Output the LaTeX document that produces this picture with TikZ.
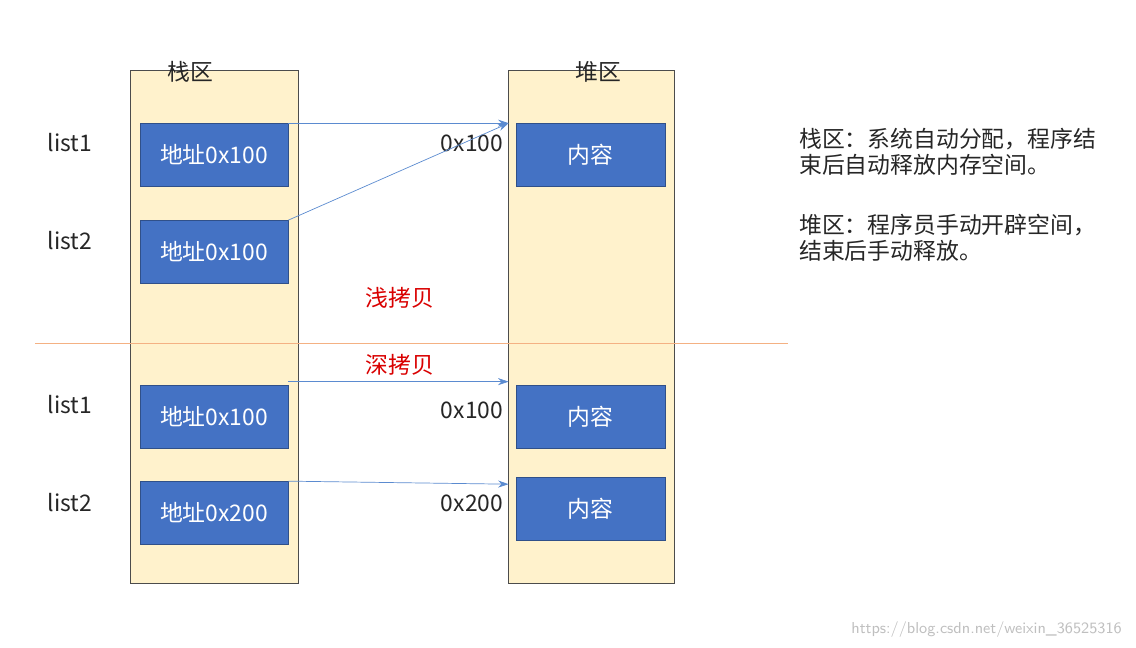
\documentclass[tikz,border=0pt]{standalone}
\usepackage{fontspec}
\newfontfamily\cjk{Noto Sans CJK SC}
\usetikzlibrary{arrows.meta}
\definecolor{zone}{HTML}{FFF2CC}
\definecolor{cell}{HTML}{4472C4}
\definecolor{link}{HTML}{5B8BD0}
\definecolor{cut}{HTML}{F4B183}
\tikzset{
  area/.style={draw=black!70,fill=zone,thin},
  cellbox/.style={draw=cell!70!black,fill=cell,text=white,inner sep=0pt},
  txt/.style={font=\cjk\fontsize{13}{15}\selectfont,text=black!85},
  ptr/.style={-{Stealth[length=6pt,width=4pt]},link,thin}
}
\begin{document}
\begin{tikzpicture}[x=0.02cm,y=-0.02cm]
  \useasboundingbox (0,0) rectangle (1136,648);

% memory areas
  \draw[area] (130,70) rectangle (298,583);
  \draw[area] (508,70) rectangle (674,583);
  \node[txt] (stk) at (190,72) {栈区};
  \node[txt] (hp) at (598,72) {堆区};

% stack cells
  \foreach \n/\y/\t in {s1/155/地址0x100,s2/252/地址0x100,s3/417/地址0x100,s4/513/地址0x200} {
    \node[cellbox,txt,text=white,minimum width=2.96cm,minimum height=1.26cm] (\n) at (214,\y) {\t};
  }
% heap cells
  \foreach \n/\y in {h1/155,h3/417,h4/509} {
    \node[cellbox,txt,text=white,minimum width=2.98cm,minimum height=1.26cm] (\n) at (590.5,\y) {内容};
  }

% labels
  \node[txt] (l1) at (70,143) {list1};
  \node[txt] (l2) at (70,241) {list2};
  \node[txt] (l3) at (70,405) {list1};
  \node[txt] (l4) at (70,503) {list2};
  \node[txt] (a1) at (472,143) {0x100};
  \node[txt] (a3) at (472,410) {0x100};
  \node[txt] (a4) at (472,503) {0x200};

% pointers
  \coordinate (t1) at ([xshift=-4pt]h1.north west);
  \coordinate (t3) at ([xshift=-4pt,yshift=2pt]h3.north west);
  \coordinate (t4) at ([xshift=-4pt,yshift=-4pt]h4.north west);
  \draw[ptr] (s1.north east) -- (t1);
  \draw[ptr] (s2.north east) -- (t1);
  \draw[ptr] ([yshift=2pt]s3.north east) -- (t3);
  \draw[ptr] (s4.north east) -- (t4);

% divider
  \coordinate (d0) at (35,343);
  \coordinate (d1) at (788,343);
  \draw[cut] (d0) -- (d1);
  \node[txt,text=red!85!black] (shallow) at (400,298) {浅拷贝};
  \node[txt,text=red!85!black] (deep) at (400,365) {深拷贝};

% notes
  \node[txt,anchor=north west,align=left] (note1) at (793,122) {栈区：系统自动分配，程序结\\束后自动释放内存空间。};
  \node[txt,anchor=north west,align=left] (note2) at (793,208) {堆区：程序员手动开辟空间，\\结束后手动释放。};
  \node[font=\sffamily\fontsize{9}{10}\selectfont,text=black!25,anchor=east] (wm) at (1128,630) {https://blog.csdn.net/weixin\_36525316};
\end{tikzpicture}
\end{document}
